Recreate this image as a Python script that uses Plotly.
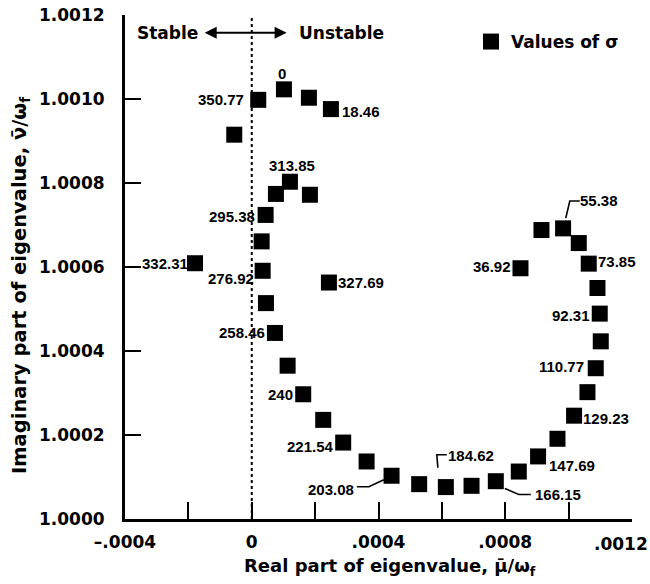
import plotly.graph_objects as go

# ---------------- data ----------------
real_part = [0.0001016, 0.0001804, 0.0002498, 0.0000205, -0.0000552, 0.0001205, 0.0000763,
             0.0001836, 0.0000438, 0.0000312, 0.0000344, 0.0002435, 0.0000448, 0.0000732,
             0.0001132, 0.0001624, 0.0002255, 0.0002886, 0.0003624, 0.0004412, 0.0005283,
             0.0006125, 0.0006936, 0.0007702, 0.0008427, 0.0009036, 0.0009648, 0.0010172,
             0.0010594, 0.0010856, 0.0011014, 0.0010982, 0.0010910, 0.0010635, 0.0010320,
             0.0009825, 0.0009143, 0.0008481, -0.0001791]
imag_part = [1.001023, 1.001003, 1.000976, 1.000998, 1.000915, 1.000803, 1.000774,
             1.000772, 1.000724, 1.000661, 1.000591, 1.000563, 1.000514, 1.000443,
             1.000365, 1.000297, 1.000236, 1.000182, 1.000137, 1.000103, 1.000083,
             1.000076, 1.000079, 1.000090, 1.000113, 1.000149, 1.000191, 1.000246,
             1.000302, 1.000359, 1.000423, 1.000489, 1.000550, 1.000608, 1.000657,
             1.000692, 1.000688, 1.000597, 1.000609]
sigma_labels = ["0", "", "18.46", "350.77", "", "313.85", "", "", "295.38", "", "276.92",
                "327.69", "", "258.46", "", "240", "", "221.54", "", "203.08", "", "184.62",
                "", "166.15", "", "147.69", "", "129.23", "", "110.77", "", "92.31", "",
                "73.85", "", "55.38", "", "36.92", "332.31"]

x_tickvals = [-0.0004, 0.0, 0.0004, 0.0008]
x_ticktext = ["\u2013.0004", "0", ".0004", ".0008"]
x_last_tick = 0.0012
x_last_label = ".0012"
x_minor_step = 0.0002
y_tickvals = [1.0000, 1.0002, 1.0004, 1.0006, 1.0008, 1.0010, 1.0012]
y_ticktext = ["1.0000", "1.0002", "1.0004", "1.0006", "1.0008", "1.0010", "1.0012"]

X_RANGE = [-0.0004, 0.0012]
Y_RANGE = [1.0000, 1.0012]

# ---------------- layout geometry / styles ----------------
W, H = 650, 584
ML, MR, MT, MB = 125, 18, 15, 65
PW, PH = W - ML - MR, H - MT - MB
DX = (X_RANGE[1] - X_RANGE[0]) / PW   # data per px
DY = (Y_RANGE[1] - Y_RANGE[0]) / PH

TICK_FONT = dict(family="DejaVu Sans", size=17, color="black", weight="bold")
LABEL_FONT = dict(family="Liberation Sans", size=15, color="black", weight="bold")
XTITLE_FONT = dict(family="DejaVu Sans", size=18, color="black", weight="bold")
YTITLE_FONT = dict(family="DejaVu Sans", size=19.5, color="black", weight="bold")

# label placement: (xanchor, xshift px, yshift px)
label_pos = {
    "0": ("center", -2, 16), "18.46": ("left", 10, -2), "350.77": ("right", -13, 0),
    "313.85": ("center", 2, 16), "295.38": ("right", -10, -2), "276.92": ("right", -8, -8),
    "327.69": ("left", 8, 0), "258.46": ("right", -9, 0), "240": ("right", -9, 0),
    "221.54": ("right", -8, -4), "203.08": ("right", -37, -14), "184.62": ("left", 1, 32),
    "166.15": ("left", 38, -13), "147.69": ("left", 10, -9), "129.23": ("left", 8, -3),
    "110.77": ("right", -11, 2), "92.31": ("right", -9, -2), "73.85": ("left", 8, 2),
    "55.38": ("left", 16, 28), "36.92": ("right", -8, 2), "332.31": ("right", -6, 0),
}
# leader lines: offsets in px (screen: +y down) from the marker centre
leaders = {
    "203.08": [(-34.7, 11), (-22.7, 11), (-7.7, 4)],
    "184.62": [(1, -32.3), (-9, -32.3), (-8, -19.3)],
    "166.15": [(9, 7.3), (23, 13.3), (35, 13.3)],
    "55.38": [(2.7, -10.3), (6.7, -27.3), (16.7, -27.3)],
}

fig = go.Figure()

# leader lines
for i, lab in enumerate(sigma_labels):
    if lab in leaders:
        xs = [real_part[i] + dx * DX for dx, dy in leaders[lab]]
        ys = [imag_part[i] - dy * DY for dx, dy in leaders[lab]]
        fig.add_trace(go.Scatter(x=xs, y=ys, mode="lines", line=dict(color="black", width=1.6),
                                 showlegend=False, hoverinfo="skip"))

fig.add_trace(go.Scatter(
    x=real_part, y=imag_part, mode="markers", name="Values of \u03c3",
    marker=dict(symbol="square", size=16, color="black", line=dict(width=0)),
    cliponaxis=False,
))

annotations = []
for i, lab in enumerate(sigma_labels):
    if not lab:
        continue
    xa, xs, ys = label_pos[lab]
    annotations.append(dict(x=real_part[i], y=imag_part[i], xref="x", yref="y", text=lab,
                            showarrow=False, xanchor=xa, yanchor="middle", xshift=xs, yshift=ys,
                            font=LABEL_FONT, borderpad=0))

# last x tick label (drawn slightly inward so it stays inside the page)
annotations.append(dict(x=x_last_tick, y=0, xref="x", yref="paper", text=x_last_label,
                        showarrow=False, xanchor="center", yanchor="top", xshift=-11, yshift=-14,
                        font=TICK_FONT, borderpad=0))

# Stable / Unstable with double arrow
annotations.append(dict(x=0.00011, y=1.001158, ax=-0.000158, ay=1.001158, xref="x", yref="y",
                        axref="x", ayref="y", text=" ", showarrow=True, arrowhead=2,
                        arrowside="end+start", arrowsize=1.2, arrowwidth=2, arrowcolor="black"))
annotations.append(dict(x=-0.000166, y=1.001158, xref="x", yref="y", text="Stable",
                        showarrow=False, xanchor="right", yanchor="middle",
                        font=dict(family="DejaVu Sans", size=17, color="black", weight="bold"),
                        borderpad=0))
annotations.append(dict(x=0.000146, y=1.001158, xref="x", yref="y", text="Unstable",
                        showarrow=False, xanchor="left", yanchor="middle",
                        font=dict(family="DejaVu Sans", size=17, color="black", weight="bold"),
                        borderpad=0))

# axis titles
annotations.append(dict(x=(389.5 - ML) / PW, y=-(567 - (MT + PH)) / PH, xref="paper", yref="paper",
                        text="Real part of eigenvalue, \u03bc\u0304/\u03c9<sub>f</sub>",
                        showarrow=False, xanchor="center", yanchor="middle", font=XTITLE_FONT))
annotations.append(dict(x=(20 - ML) / PW, y=1 - (285 - MT) / PH, xref="paper", yref="paper",
                        text="Imaginary part of eigenvalue, \u03bd\u0304/\u03c9<sub>f</sub>",
                        textangle=-90, showarrow=False, xanchor="center", yanchor="middle",
                        font=YTITLE_FONT))

fig.update_layout(
    width=W, height=H,
    margin=dict(l=ML, r=MR, t=MT, b=MB, autoexpand=False),
    plot_bgcolor="white", paper_bgcolor="white",
    showlegend=True,
    legend=dict(x=(471 - ML) / PW, y=1 - (42 - MT) / PH, xanchor="left", yanchor="middle",
                font=dict(family="DejaVu Sans", size=17, color="black", weight="bold"),
                bgcolor="rgba(0,0,0,0)"),
    annotations=annotations,
    shapes=[dict(type="line", xref="x", yref="y", x0=0, x1=0, y0=Y_RANGE[0], y1=Y_RANGE[1] + 0.000005,
                 line=dict(color="black", width=2, dash="dot"))],
    xaxis=dict(range=X_RANGE, showgrid=False, zeroline=False, showline=True, linecolor="black",
               linewidth=3, ticks="inside", ticklen=17, tickwidth=2, tickcolor="black",
               tickvals=x_tickvals, ticktext=x_ticktext, tickfont=TICK_FONT,
               ticklabelstandoff=6, fixedrange=True,
               minor=dict(ticks="inside", ticklen=17, tickwidth=2, tickcolor="black",
                          tick0=X_RANGE[0], dtick=x_minor_step, showgrid=False)),
    yaxis=dict(range=Y_RANGE, showgrid=False, zeroline=False, showline=True, linecolor="black",
               linewidth=3, ticks="inside", ticklen=16, tickwidth=2, tickcolor="black",
               tickvals=y_tickvals, ticktext=y_ticktext, tickfont=TICK_FONT,
               ticklabelstandoff=14, fixedrange=True),
)

fig.write_html("out.html")
